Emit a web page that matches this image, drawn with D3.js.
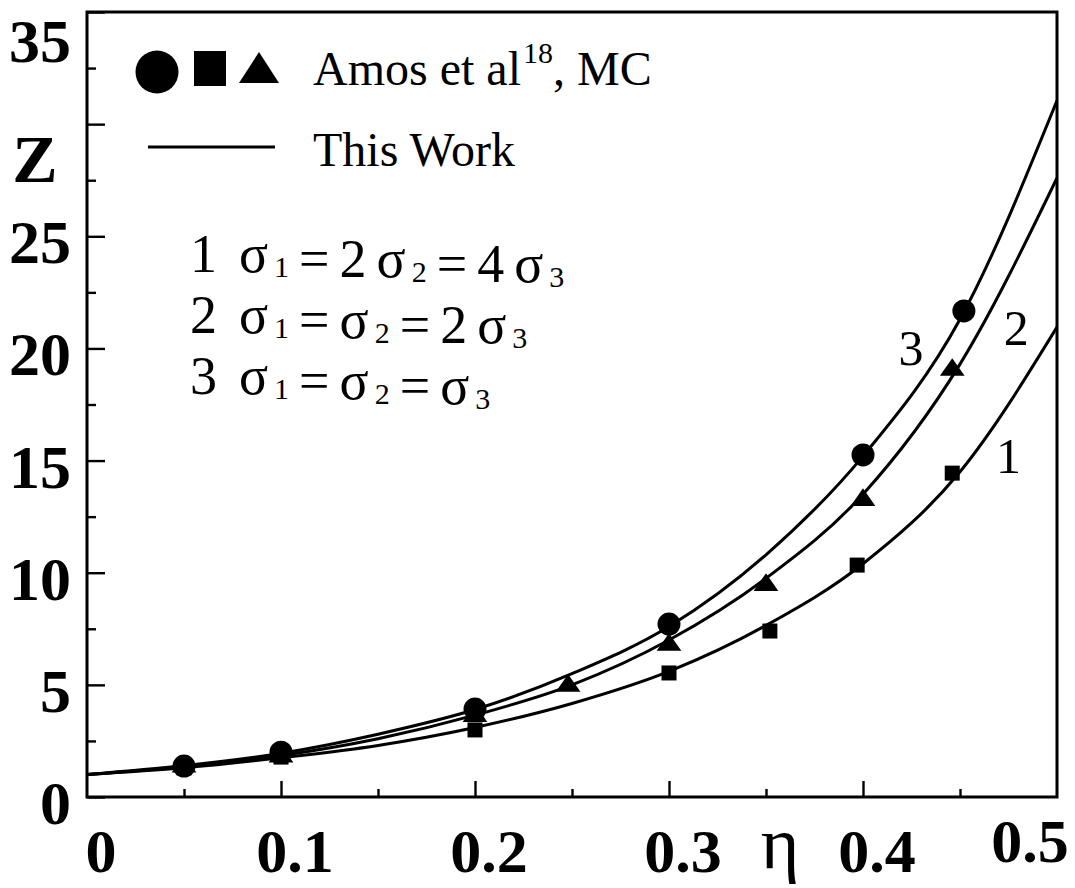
<!DOCTYPE html>
<html>
<head>
<meta charset="utf-8">
<script src="https://cdn.jsdelivr.net/npm/d3@7"></script>
<style>
  html, body { margin: 0; padding: 0; background: #fff; }
  svg { display: block; }
  text { font-family: "Liberation Serif", "Times New Roman", serif; fill: #000; }
</style>
</head>
<body>
<script>
// ---------------- data ----------------
const etaGrid  = [0, 0.05, 0.10, 0.15, 0.20, 0.25, 0.30, 0.35, 0.40, 0.45, 0.50];
// "This Work" theory curves
const curve1Z  = [1, 1.30, 1.75, 2.30, 3.10, 4.17, 5.60, 7.65, 10.40, 14.50, 20.95];
const curve2Z  = [1, 1.35, 1.85, 2.60, 3.65, 5.00, 7.00, 9.75, 13.50, 19.30, 27.60];
const curve3Z  = [1, 1.40, 1.95, 2.80, 3.90, 5.50, 7.60, 10.80, 15.20, 21.30, 31.05];
const curveLabels = ["1", "2", "3"];

// Amos et al MC data
const mcSquareEta   = [0.05, 0.10, 0.20, 0.30, 0.352, 0.397, 0.446];
const mcSquareZ     = [1.30, 1.78, 2.99, 5.53, 7.40, 10.34, 14.44];
const mcTriangleEta = [0.05, 0.10, 0.20, 0.248, 0.30, 0.35, 0.40, 0.446];
const mcTriangleZ   = [1.35, 1.80, 3.61, 4.95, 6.78, 9.45, 13.24, 19.04];
const mcCircleEta   = [0.05, 0.10, 0.20, 0.30, 0.40, 0.452];
const mcCircleZ     = [1.38, 2.00, 3.92, 7.71, 15.25, 21.67];

const yTickLabels = [0, 5, 10, 15, 20, 25, 35];       // 30 replaced by "Z"
const xTickLabels = [0, 0.1, 0.2, 0.3, 0.4, 0.5];
const legendTexts = ["Amos et al", "18", ", MC", "This Work"];
const sigmaLines = [
  ["1", ["σ","1"], "=", "2", ["σ","2"], "=", "4", ["σ","3"]],
  ["2", ["σ","1"], "=", ["σ","2"], "=", "2", ["σ","3"]],
  ["3", ["σ","1"], "=", ["σ","2"], "=", ["σ","3"]]
];

// ---------------- layout ----------------
const W = 1075, H = 888;
const L = 87, R = 1057, T = 12, B = 797;

const svg = d3.select("body").append("svg").attr("width", W).attr("height", H);

const x = d3.scaleLinear().domain([0, 0.5]).range([L, R]);
const y = d3.scaleLinear().domain([0, 35]).range([B, T]);

svg.append("clipPath").attr("id", "clip")
  .append("rect").attr("x", L).attr("y", T).attr("width", R - L).attr("height", B - T);

// axes ticks (inward)
const yMajor = d3.range(0, 35.01, 5), yMinor = d3.range(2.5, 35, 5);
const xMajor = d3.range(0, 0.501, 0.1), xMinor = d3.range(0.05, 0.5, 0.1);

const gAxY = svg.append("g").attr("transform", `translate(${L},0)`)
  .call(d3.axisRight(y).tickValues(yMajor).tickSize(18).tickFormat(""));
const gAxYm = svg.append("g").attr("transform", `translate(${L},0)`)
  .call(d3.axisRight(y).tickValues(yMinor).tickSize(9).tickFormat(""));
const gAxX = svg.append("g").attr("transform", `translate(0,${B})`)
  .call(d3.axisTop(x).tickValues(xMajor.filter(v => v > 0 && v < 0.5)).tickSize(16).tickFormat(""));
const gAxXm = svg.append("g").attr("transform", `translate(0,${B})`)
  .call(d3.axisTop(x).tickValues(xMinor).tickSize(8).tickFormat(""));
[gAxY, gAxYm, gAxX, gAxXm].forEach(g => {
  g.select(".domain").remove();
  g.selectAll("line").attr("stroke", "#000").attr("stroke-width", 2.4);
});

// frame
svg.append("rect").attr("x", L).attr("y", T).attr("width", R - L).attr("height", B - T)
  .attr("fill", "none").attr("stroke", "#000").attr("stroke-width", 3);

// tick labels
svg.append("g").selectAll("text").data(yTickLabels).join("text")
  .attr("x", 71)
  .attr("y", d => Math.max(y(d) + 27, 62))
  .attr("text-anchor", "end")
  .attr("font-weight", "bold")
  .attr("font-size", 62)
  .text(d => d);

svg.append("g").selectAll("text").data(xTickLabels).join("text")
  .attr("x", d => Math.min(Math.max(x(d) + 14, 94), 1030))
  .attr("y", d => d === 0.5 ? 862 : 872)
  .attr("text-anchor", "middle")
  .attr("font-weight", "bold")
  .attr("font-size", 62)
  .text(d => d === 0 ? "0" : d3.format(".1f")(d));

// axis titles
svg.append("text").attr("x", 35).attr("y", 182).attr("text-anchor", "middle")
  .attr("font-weight", "bold").attr("font-size", 68).text("Z");
svg.append("text").attr("x", 780).attr("y", 868).attr("text-anchor", "middle")
  .attr("font-size", 74).text("η");

// curves
const curves = [curve1Z, curve2Z, curve3Z];
const line = d3.line().x(d => x(d[0])).y(d => y(d[1])).curve(d3.curveMonotoneX);
svg.append("g").attr("clip-path", "url(#clip)").selectAll("path").data(curves).join("path")
  .attr("d", c => line(etaGrid.map((e, i) => [e, c[i]])))
  .attr("fill", "none").attr("stroke", "#000").attr("stroke-width", 3);

// markers
const gM = svg.append("g");
gM.selectAll("rect.sq").data(mcSquareEta.map((e, i) => [e, mcSquareZ[i]])).join("rect")
  .attr("class", "sq")
  .attr("x", d => x(d[0]) - 7.5).attr("y", d => y(d[1]) - 7.5)
  .attr("width", 15).attr("height", 15).attr("fill", "#000");
const tri = d3.symbol().type(d3.symbolTriangle).size(200);
gM.selectAll("path.tri").data(mcTriangleEta.map((e, i) => [e, mcTriangleZ[i]])).join("path")
  .attr("class", "tri")
  .attr("transform", d => `translate(${x(d[0])},${y(d[1])}) scale(1.15,0.95)`)
  .attr("d", tri).attr("fill", "#000");
gM.selectAll("circle").data(mcCircleEta.map((e, i) => [e, mcCircleZ[i]])).join("circle")
  .attr("cx", d => x(d[0])).attr("cy", d => y(d[1])).attr("r", 11.5).attr("fill", "#000");

// curve labels
const curveLabelPos = [[0.475, 14.45], [0.479, 20.15], [0.4247, 19.26]];
svg.append("g").selectAll("text").data(curveLabels).join("text")
  .attr("x", (d, i) => x(curveLabelPos[i][0]))
  .attr("y", (d, i) => y(curveLabelPos[i][1]))
  .attr("text-anchor", "middle").attr("font-size", 50).text(d => d);

// legend
const lg = svg.append("g");
lg.append("circle").attr("cx", 157).attr("cy", 72).attr("r", 21.5).attr("fill", "#000");
lg.append("rect").attr("x", 194).attr("y", 51).attr("width", 32).attr("height", 35).attr("fill", "#000");
lg.append("path").attr("d", "M239,83 L279,83 L259,52 Z").attr("fill", "#000");
lg.append("line").attr("x1", 148).attr("x2", 275).attr("y1", 147).attr("y2", 147)
  .attr("stroke", "#000").attr("stroke-width", 2.8);

const t1 = lg.append("text").attr("x", 313).attr("y", 85).attr("font-size", 48);
t1.append("tspan").text(legendTexts[0]);
t1.append("tspan").attr("font-size", 30).attr("dy", -22).attr("dx", 2).text(legendTexts[1]);
t1.append("tspan").attr("dy", 22).text(legendTexts[2]);
lg.append("text").attr("x", 313).attr("y", 166).attr("font-size", 48).text(legendTexts[3]);

// sigma relations
const sigBase = [272, 333, 394];
sigmaLines.forEach((tokens, li) => {
  const t = lg.append("text").attr("x", 190).attr("y", sigBase[li]).attr("font-size", 54);
  tokens.forEach((tok, k) => {
    const gap = k === 0 ? 0 : (k === 1 ? 22 : 10);
    if (Array.isArray(tok)) {
      t.append("tspan").attr("dx", gap).attr("font-size", 54).attr("dx", gap).text(tok[0])
        .attr("style", "letter-spacing:1px");
      t.append("tspan").attr("dx", 5).attr("dy", 5).attr("font-size", 30).text(tok[1]);
      t.append("tspan").attr("dy", -5).text("");
    } else {
      t.append("tspan").attr("dx", gap).text(tok);
    }
  });
});
</script>
</body>
</html>
